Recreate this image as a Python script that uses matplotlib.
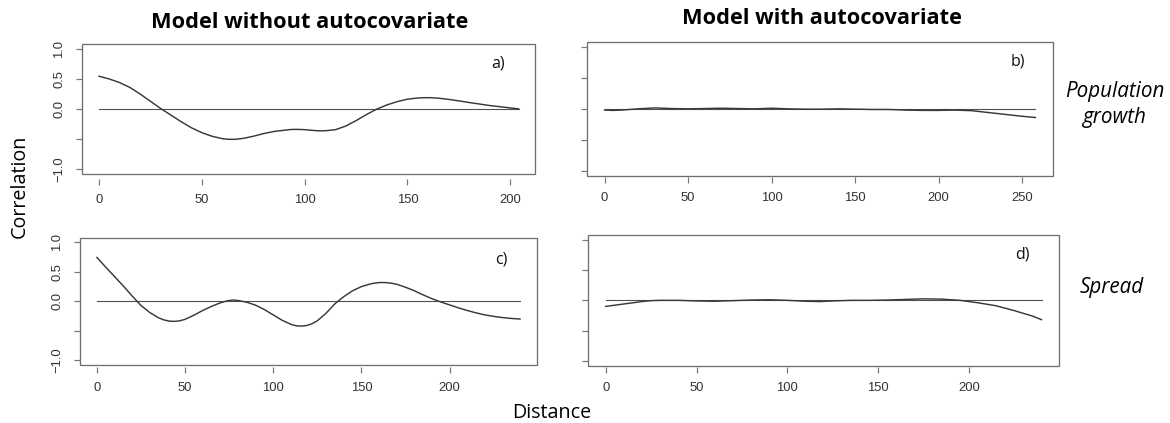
import matplotlib
matplotlib.use("Agg")
import matplotlib.pyplot as plt
from matplotlib.patches import Rectangle

W, H = 1170, 423

# Spatial correlograms of model residuals (correlation vs distance)
dist_a = [0, 5, 10, 15, 20, 25, 30, 35, 40, 45, 50, 55, 60, 63, 66, 70, 75, 80, 85, 90,
          93, 96, 100, 105, 108, 111, 115, 120, 125, 130, 135, 140, 145, 150, 155, 158,
          161, 165, 170, 175, 180, 185, 190, 195, 200, 204]
cor_a = [0.545, 0.50, 0.44, 0.36, 0.25, 0.13, 0.01, -0.10, -0.21, -0.31, -0.39, -0.45,
         -0.49, -0.50, -0.50, -0.485, -0.45, -0.405, -0.37, -0.35, -0.338, -0.335, -0.34,
         -0.355, -0.36, -0.355, -0.34, -0.28, -0.19, -0.09, 0.0, 0.07, 0.125, 0.165,
         0.185, 0.19, 0.19, 0.182, 0.162, 0.137, 0.11, 0.085, 0.06, 0.04, 0.02, 0.005]

dist_b = [0, 5, 10, 20, 30, 40, 50, 60, 70, 80, 90, 100, 110, 120, 130, 140, 150, 160,
          170, 180, 190, 200, 210, 220, 230, 240, 250, 258]
cor_b = [-0.02, -0.025, -0.02, 0.0, 0.015, 0.005, 0.0, 0.005, 0.01, 0.005, 0.0, 0.01,
         0.0, -0.005, -0.005, 0.0, -0.005, -0.01, -0.01, -0.02, -0.025, -0.025, -0.02,
         -0.03, -0.06, -0.09, -0.12, -0.14]

dist_c = [0, 5, 10, 15, 20, 25, 30, 35, 38, 41, 44, 47, 50, 55, 60, 65, 70, 74, 77, 80,
          85, 90, 95, 100, 105, 110, 113, 116, 119, 122, 125, 130, 135, 140, 145, 150,
          155, 158, 161, 164, 167, 170, 175, 180, 185, 190, 195, 200, 205, 210, 215, 220,
          225, 230, 235, 240]
cor_c = [0.745, 0.58, 0.42, 0.26, 0.09, -0.07, -0.19, -0.28, -0.315, -0.335, -0.34,
         -0.33, -0.305, -0.235, -0.155, -0.085, -0.025, 0.01, 0.022, 0.015, -0.015, -0.065,
         -0.14, -0.23, -0.32, -0.39, -0.415, -0.42, -0.41, -0.38, -0.33, -0.20, -0.04,
         0.08, 0.18, 0.25, 0.295, 0.312, 0.32, 0.318, 0.308, 0.29, 0.24, 0.18, 0.11,
         0.045, -0.01, -0.06, -0.11, -0.155, -0.195, -0.23, -0.255, -0.275, -0.29, -0.30]

dist_d = [0, 5, 10, 15, 20, 25, 30, 40, 50, 60, 70, 80, 90, 100, 110, 118, 125, 135, 145,
          155, 165, 175, 185, 195, 205, 215, 225, 235, 240]
cor_d = [-0.10, -0.08, -0.06, -0.04, -0.02, -0.005, 0.0, 0.0, -0.01, -0.015, -0.005,
         0.005, 0.01, 0.0, -0.015, -0.02, -0.01, 0.0, 0.0, 0.005, 0.015, 0.025, 0.02, 0.0,
         -0.04, -0.09, -0.17, -0.26, -0.32]

xticks_a = [0, 50, 100, 150, 200]
xticks_b = [0, 50, 100, 150, 200, 250]
xticks_c = [0, 50, 100, 150, 200]
xticks_d = [0, 50, 100, 150, 200]
yticks = [-1.0, -0.5, 0.0, 0.5, 1.0]
ytick_labels = ["\u22121.0", "", "0.0", "0.5", "1.0"]

col_titles = ["Model without autocovariate", "Model with autocovariate"]
row_titles = ["Population", "growth", "Spread"]
panel_tags = ["a)", "b)", "c)", "d)"]

PX = 0.72  # points per pixel at 100 dpi

fig = plt.figure(figsize=(W / 100, H / 100), dpi=100)


def fx(x):
    return x / W


def fy(y):
    return 1 - y / H


def panel(box, dist, cor, xticks, show_ylabels, tick_gap, tag, tag_xy):
    l, t, r, b = box
    ax = fig.add_axes([fx(l), fy(b), (r - l) / W, (b - t) / H])
    lo, hi = min(dist), max(dist)
    pad = 0.04 * (hi - lo)
    ax.set_xlim(lo - pad, hi + pad)
    ax.set_ylim(-1.08, 1.08)
    ax.plot([lo, hi], [0, 0], color="#505050", lw=1.1 * PX)
    ax.plot(dist, cor, color="#383838", lw=1.45 * PX, solid_joinstyle="round")
    for s in ax.spines.values():
        s.set_visible(False)
    ax.spines["bottom"].set_position(("outward", tick_gap * PX))
    ax.add_patch(Rectangle((0, 0), 1, 1, transform=ax.transAxes, fill=False,
                           edgecolor="#6e6e6e", lw=1.3 * PX, clip_on=False))
    ax.set_xticks(xticks)
    ax.set_xticklabels([str(v) for v in xticks])
    ax.set_yticks(yticks)
    if show_ylabels:
        ax.set_yticklabels(ytick_labels)
    else:
        ax.set_yticklabels([])
    ax.tick_params(axis="both", direction="out", length=6 * PX, width=1.2 * PX,
                   color="#777777", labelcolor="#333333", labelsize=9.4)
    ax.tick_params(axis="x", pad=9 * PX)
    ax.tick_params(axis="y", pad=11 * PX, labelrotation=90)
    for lab in ax.get_xticklabels() + ax.get_yticklabels():
        lab.set_fontfamily("Liberation Sans")
    for lab in ax.get_yticklabels():
        lab.set_verticalalignment("center")
    fig.text(fx(tag_xy[0]), fy(tag_xy[1]), tag, ha="center", va="center",
             fontsize=11.5, family="Open Sans", color="#111111")
    return ax


panel((82.3, 44, 535.3, 174.3), dist_a, cor_a, xticks_a, True, 4.5, panel_tags[0], (498, 63.5))
panel((587.3, 42, 1052.7, 175.7), dist_b, cor_b, xticks_b, False, 1.0, panel_tags[1], (1017.5, 61.7))
panel((80, 237.7, 537, 365), dist_c, cor_c, xticks_c, True, 1.7, panel_tags[2], (501, 259.7))
panel((588.3, 235, 1059, 365.7), dist_d, cor_d, xticks_d, False, 1.0, panel_tags[3], (1022.5, 254.5))

# column headers
fig.text(fx(310), fy(28.3), col_titles[0], ha="center", va="baseline",
         fontsize=15.7, fontweight="bold", family="Open Sans", color="#000000")
fig.text(fx(821.7), fy(24), col_titles[1], ha="center", va="baseline",
         fontsize=15.7, fontweight="bold", family="Open Sans", color="#000000")

# row headers
fig.text(fx(1114.5), fy(96.7), row_titles[0], ha="center", va="baseline",
         fontsize=14.9, style="italic", family="Open Sans", color="#000000")
fig.text(fx(1115), fy(123.3), row_titles[1], ha="center", va="baseline",
         fontsize=14.9, style="italic", family="Open Sans", color="#000000")
fig.text(fx(1111.7), fy(293.3), row_titles[2], ha="center", va="baseline",
         fontsize=14.9, style="italic", family="Open Sans", color="#000000")

# shared axis titles
fig.text(fx(551.7), fy(418.3), "Distance", ha="center", va="baseline",
         fontsize=14.2, family="Open Sans", color="#000000")
fig.text(fx(20), fy(186.5), "Correlation", ha="center", va="center", rotation=90,
         fontsize=14.2, family="Open Sans", color="#000000")

fig.savefig("out.png", dpi=100)
